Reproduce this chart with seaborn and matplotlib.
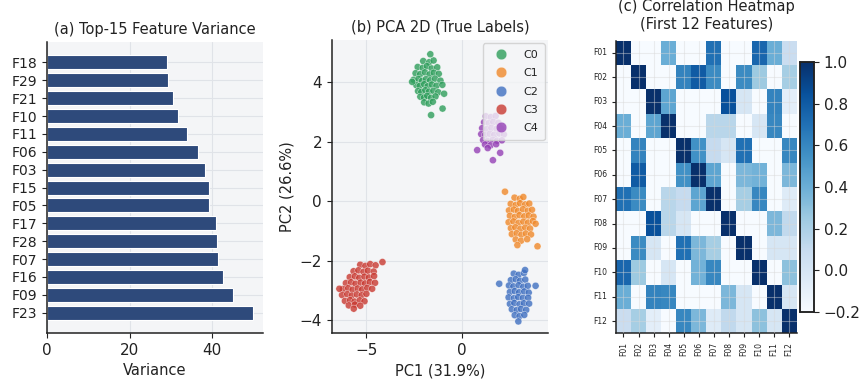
import numpy as np
import pandas as pd
import matplotlib
matplotlib.use("Agg")
import matplotlib.pyplot as plt
import seaborn as sns

# ---------------- data ----------------
feat_names = ["F18", "F29", "F21", "F10", "F11", "F06", "F03", "F15",
              "F05", "F17", "F28", "F07", "F16", "F09", "F23"]
feat_var = [29.0, 29.2, 30.4, 31.6, 33.9, 36.6, 38.3, 39.2,
            39.2, 40.9, 41.2, 41.3, 42.5, 45.0, 49.8]

c0_x = [-2.02, -1.71, -1.48, -2.31, -2.05, -1.83, -1.58, -1.29, -2.42, -2.18, -1.93, -1.69,
        -1.47, -1.21, -2.52, -2.27, -2.08, -1.88, -1.66, -1.41, -1.12, -2.38, -2.21, -1.97,
        -1.79, -1.57, -1.33, -1.02, -2.29, -2.12, -1.91, -1.72, -1.49, -1.24, -2.17, -1.98,
        -1.81, -1.61, -1.38, -1.97, -1.74, -1.52, -1.65, -1.61, -1.01, -0.93, -2.60]
c0_y = [4.72, 4.68, 4.74, 4.52, 4.49, 4.55, 4.47, 4.51, 4.31, 4.28, 4.34, 4.27,
        4.33, 4.29, 4.09, 4.12, 4.05, 4.11, 4.07, 4.13, 4.06, 3.91, 3.88, 3.94,
        3.87, 3.93, 3.89, 3.92, 3.71, 3.68, 3.74, 3.69, 3.72, 3.67, 3.52, 3.49,
        3.55, 3.48, 3.53, 3.33, 3.29, 3.35, 4.95, 2.90, 3.12, 3.62, 4.02]

c1_x = [2.75, 3.02, 3.21, 2.55, 2.81, 3.04, 3.31, 3.52, 2.46, 2.71, 2.93, 3.19,
        3.44, 3.66, 2.51, 2.76, 3.01, 3.26, 3.49, 3.74, 2.44, 2.69, 2.96, 3.21,
        3.46, 3.71, 2.56, 2.79, 3.06, 3.31, 3.56, 2.61, 2.86, 3.11, 3.34, 3.61,
        2.81, 3.09, 3.41, 2.25, 3.95, 2.90, 3.85]
c1_y = [0.12, 0.08, 0.14, -0.09, -0.13, -0.07, -0.11, -0.08, -0.31, -0.28, -0.33, -0.27,
        -0.32, -0.29, -0.49, -0.53, -0.47, -0.51, -0.48, -0.52, -0.71, -0.68, -0.73, -0.69,
        -0.72, -0.67, -0.91, -0.88, -0.93, -0.89, -0.92, -1.11, -1.08, -1.13, -1.09, -1.12,
        -1.29, -1.33, -1.28, 0.32, -1.52, -1.48, -0.76]

c2_x = [2.71, 2.96, 3.24, 2.56, 2.81, 3.04, 3.31, 2.46, 2.69, 2.96, 3.21, 3.44,
        2.51, 2.76, 2.99, 3.26, 3.49, 2.44, 2.71, 2.94, 3.19, 3.46, 2.51, 2.74,
        3.01, 3.24, 3.51, 2.61, 2.86, 3.09, 3.36, 2.76, 3.01, 3.26, 1.95, 3.85,
        2.95, 3.30]
c2_y = [-2.44, -2.48, -2.42, -2.66, -2.63, -2.68, -2.64, -2.84, -2.87, -2.83, -2.88, -2.85,
        -3.06, -3.03, -3.07, -3.04, -3.08, -3.24, -3.27, -3.23, -3.26, -3.25, -3.46, -3.43,
        -3.47, -3.44, -3.45, -3.64, -3.67, -3.63, -3.66, -3.84, -3.87, -3.83, -2.78, -2.85,
        -4.05, -2.32]

c3_x = [-5.31, -5.04, -4.79, -4.51, -5.66, -5.41, -5.14, -4.91, -4.61, -5.86, -5.59, -5.36,
        -5.09, -4.86, -4.59, -6.06, -5.79, -5.56, -5.29, -5.06, -4.81, -4.54, -6.21, -5.94,
        -5.71, -5.44, -5.21, -4.94, -4.69, -6.26, -5.99, -5.76, -5.49, -5.24, -4.99, -6.11,
        -5.84, -5.61, -5.34, -5.09, -5.91, -5.59, -5.31, -4.15, -6.40, -5.65]
c3_y = [-2.14, -2.18, -2.12, -2.16, -2.36, -2.33, -2.38, -2.34, -2.37, -2.56, -2.53, -2.58,
        -2.54, -2.57, -2.52, -2.76, -2.73, -2.78, -2.74, -2.77, -2.72, -2.75, -2.96, -2.93,
        -2.98, -2.94, -2.97, -2.92, -2.95, -3.16, -3.13, -3.18, -3.14, -3.17, -3.12, -3.36,
        -3.33, -3.38, -3.34, -3.37, -3.51, -3.48, -3.52, -2.05, -2.95, -3.62]

c4_x = [1.25, 1.51, 1.76, 1.16, 1.41, 1.64, 1.91, 1.06, 1.31, 1.54, 1.81, 2.04,
        1.01, 1.21, 1.46, 1.69, 1.96, 2.19, 1.11, 1.36, 1.61, 1.84, 2.09, 1.21,
        1.49, 1.79, 0.80, 1.62, 2.00, 1.35]
c4_y = [2.86, 2.83, 2.87, 2.66, 2.63, 2.67, 2.64, 2.46, 2.43, 2.47, 2.44, 2.45,
        2.26, 2.23, 2.27, 2.24, 2.28, 2.25, 2.06, 2.03, 2.07, 2.04, 2.05, 1.91,
        1.88, 1.92, 1.72, 1.38, 1.63, 1.79]

class_names = ["C0", "C1", "C2", "C3", "C4"]
class_colors = ["#2e9e5b", "#f0892a", "#3f6fc0", "#c93a32", "#9440b5"]

hm_labels = ["F01", "F02", "F03", "F04", "F05", "F06",
             "F07", "F08", "F09", "F10", "F11", "F12"]
W = -0.3
corr_rows = [
    [1.00, W, W, 0.40, W, W, 0.70, W, W, 0.75, 0.40, 0.08],
    [W, 1.00, W, W, 0.62, 0.80, 0.58, W, 0.58, 0.25, W, 0.22],
    [W, W, 1.00, 0.45, W, W, W, 0.85, 0.00, W, 0.62, -0.08],
    [0.40, W, 0.45, 1.00, W, W, 0.15, 0.15, W, 0.00, 0.60, W],
    [W, 0.62, W, W, 1.00, 0.55, 0.10, 0.00, 0.70, W, W, 0.60],
    [W, 0.80, W, W, 0.55, 1.00, 0.45, W, 0.35, 0.38, W, 0.35],
    [0.70, 0.58, W, 0.15, 0.10, 0.45, 1.00, W, 0.22, 0.60, W, -0.05],
    [W, W, 0.85, 0.15, 0.00, W, W, 1.00, W, W, 0.35, 0.12],
    [W, 0.58, 0.00, W, 0.70, 0.35, 0.22, W, 1.00, W, 0.00, 0.00],
    [0.75, 0.25, W, 0.00, W, 0.38, 0.60, W, W, 1.00, W, 0.30],
    [0.40, W, 0.62, 0.60, W, W, W, 0.35, 0.00, W, 1.00, 0.00],
    [0.08, 0.22, -0.08, W, 0.60, 0.35, -0.05, 0.12, 0.00, 0.30, 0.00, 1.00],
]

# ---------------- style ----------------
sns.set_style("ticks")
plt.rcParams.update({
    "font.family": ["DejaVu Sans"],
    "axes.facecolor": "#f4f5f7",
    "axes.edgecolor": "#222222",
    "axes.linewidth": 1.1,
    "grid.color": "#e0e3e8",
    "grid.linewidth": 0.8,
    "xtick.color": "#222222",
    "ytick.color": "#222222",
    "text.color": "#222222",
    "axes.labelcolor": "#222222",
})

fig = plt.figure(figsize=(8.61, 3.86), dpi=100)
ax1 = fig.add_axes([0.0546, 0.1373, 0.2509, 0.7537])
ax2 = fig.add_axes([0.3853, 0.1373, 0.2512, 0.7591])
ax3 = fig.add_axes([0.7154, 0.1365, 0.2099, 0.7581])
cax = fig.add_axes([0.9292, 0.1925, 0.0162, 0.6461])

# ---------- (a) bar chart ----------
df_bar = pd.DataFrame({"feature": feat_names, "variance": feat_var})
sns.barplot(data=df_bar, x="variance", y="feature", orient="h", color="#2e4a7b",
            edgecolor="white", linewidth=0.8, width=0.78, saturation=1, ax=ax1)
ax1.set_ylim(len(feat_names) - 1 + 1.14, -1.14)
ax1.set_xlim(0, 52.3)
ax1.set_xticks([0, 20, 40])
ax1.grid(True, axis="both")
ax1.set_axisbelow(True)
ax1.set_xlabel("Variance", fontsize=10.5)
ax1.set_ylabel("")
ax1.set_title("(a) Top-15 Feature Variance", fontsize=10.5, pad=6)
ax1.tick_params(axis="x", labelsize=11)
ax1.tick_params(axis="y", labelsize=10)
sns.despine(ax=ax1)

# ---------- (b) PCA scatter ----------
xs = [c0_x, c1_x, c2_x, c3_x, c4_x]
ys = [c0_y, c1_y, c2_y, c3_y, c4_y]
frames = []
for name, xv, yv in zip(class_names, xs, ys):
    frames.append(pd.DataFrame({"PC1": xv, "PC2": yv, "label": name}))
df_sc = pd.concat(frames, ignore_index=True)
sns.scatterplot(data=df_sc, x="PC1", y="PC2", hue="label", hue_order=class_names,
                palette=class_colors, s=26, alpha=0.8, edgecolor="white",
                linewidth=0.3, ax=ax2)
ax2.set_xlim(-6.8, 4.5)
ax2.set_ylim(-4.44, 5.43)
ax2.set_xticks([-5, 0])
ax2.set_yticks([-4, -2, 0, 2, 4])
ax2.grid(True)
ax2.set_axisbelow(True)
ax2.set_xlabel("PC1 (31.9%)", fontsize=10.5)
ax2.set_ylabel("PC2 (26.6%)", fontsize=10.5)
ax2.set_title("(b) PCA 2D (True Labels)", fontsize=10.5, pad=6)
ax2.tick_params(labelsize=11)
leg = ax2.legend(loc="upper right", fontsize=8, markerscale=1.5, framealpha=0.8,
                 borderpad=0.6, labelspacing=0.75, handletextpad=1.0,
                 borderaxespad=0.3)
leg.get_frame().set_edgecolor("#cccccc")
sns.despine(ax=ax2)

# ---------- (c) heatmap ----------
corr = pd.DataFrame(corr_rows, index=hm_labels, columns=hm_labels)
sns.heatmap(corr, cmap="Blues", vmin=-0.2, vmax=1.0, ax=ax3, cbar_ax=cax,
            square=False, linewidths=0)
ax3.set_title("(c) Correlation Heatmap\n(First 12 Features)", fontsize=10.5, pad=9)
ax3.tick_params(axis="both", labelsize=5.5, length=3)
ax3.set_xticklabels(hm_labels, rotation=90)
ax3.set_yticklabels(hm_labels, rotation=0)
ax3.grid(True, color="#d8d8d8", alpha=0.45, linewidth=0.8)
ax3.set_axisbelow(False)
for side in ["left", "bottom"]:
    ax3.spines[side].set_visible(True)
    ax3.spines[side].set_color("#222222")
    ax3.spines[side].set_linewidth(1.1)
cax.tick_params(labelsize=11)
cax.set_yticks([-0.2, 0.0, 0.2, 0.4, 0.6, 0.8, 1.0])
for sp in cax.spines.values():
    sp.set_visible(True)
    sp.set_color("#222222")
    sp.set_linewidth(1.1)

fig.savefig("out.png", dpi=100)
